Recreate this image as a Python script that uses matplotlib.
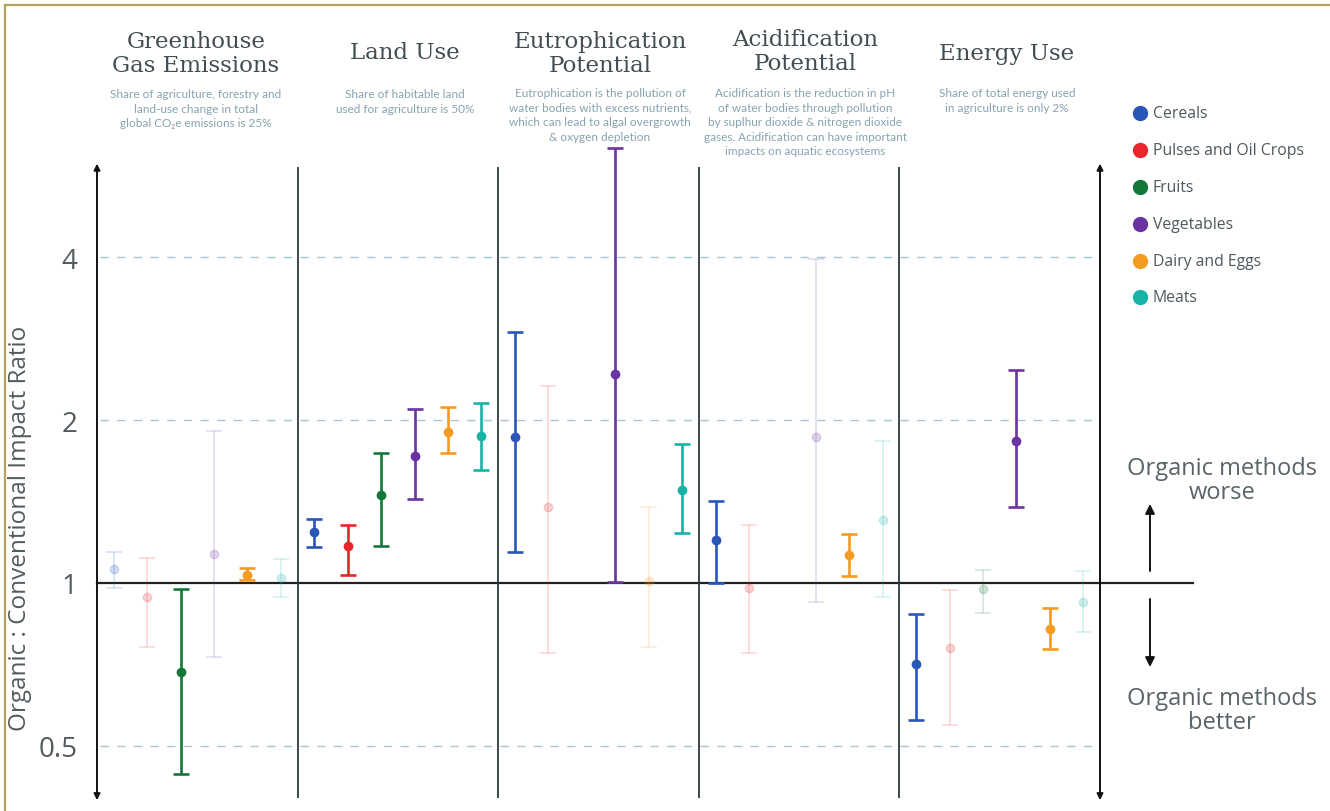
import matplotlib.pyplot as plt
from matplotlib.lines import Line2D

# panels and categories
panels = ["Greenhouse\nGas Emissions", "Land Use", "Eutrophication\nPotential",
          "Acidification\nPotential", "Energy Use"]
subtitles = [
    "Share of agriculture, forestry and\nland-use change in total\nglobal CO\u2082e emissions is 25%",
    "Share of habitable land\nused for agriculture is 50%",
    "Eutrophication is the pollution of\nwater bodies with excess nutrients,\nwhich can lead to algal overgrowth\n& oxygen depletion",
    "Acidification is the reduction in pH\nof water bodies through pollution\nby suplhur dioxide & nitrogen dioxide\ngases. Acidification can have important\nimpacts on aquatic ecosystems",
    "Share of total energy used\nin agriculture is only 2%",
]
categories = ["Cereals", "Pulses and Oil Crops", "Fruits", "Vegetables", "Dairy and Eggs", "Meats"]
colors = ["#2b56b9", "#e8262b", "#14773a", "#6a33a1", "#f69b22", "#17b3a7"]

# ratio organic : conventional (point, low, high) per panel
cereals_mid = [1.06, 1.24, 1.86, 1.20, 0.71]
cereals_lo = [0.977, 1.164, 1.14, 1.0, 0.558]
cereals_hi = [1.14, 1.312, 2.91, 1.42, 0.878]
cereals_faded = [True, False, False, False, False]

pulses_mid = [0.943, 1.168, 1.38, 0.977, 0.757]
pulses_lo = [0.761, 1.036, 0.741, 0.743, 0.547]
pulses_hi = [1.113, 1.282, 2.31, 1.277, 0.972]
pulses_faded = [True, False, True, True, True]

fruits_mid = [0.686, 1.455, None, None, 0.975]
fruits_lo = [0.444, 1.168, None, None, 0.879]
fruits_hi = [0.974, 1.737, None, None, 1.059]
fruits_faded = [False, False, False, False, True]

veg_mid = [1.133, 1.718, 2.43, 1.858, 1.83]
veg_lo = [0.730, 1.43, 1.005, 0.923, 1.384]
veg_hi = [1.91, 2.10, 6.35, 3.97, 2.47]
veg_faded = [True, False, False, True, False]

dairy_mid = [1.036, 1.902, 1.007, 1.127, 0.822]
dairy_lo = [1.013, 1.74, 0.761, 1.03, 0.754]
dairy_hi = [1.065, 2.115, 1.384, 1.23, 0.898]
dairy_faded = [False, False, True, False, False]

meats_mid = [1.02, 1.866, 1.484, 1.307, 0.923]
meats_lo = [0.943, 1.617, 1.237, 0.943, 0.813]
meats_hi = [1.107, 2.15, 1.807, 1.826, 1.053]
meats_faded = [True, False, False, True, True]

mids = [cereals_mid, pulses_mid, fruits_mid, veg_mid, dairy_mid, meats_mid]
los = [cereals_lo, pulses_lo, fruits_lo, veg_lo, dairy_lo, meats_lo]
his = [cereals_hi, pulses_hi, fruits_hi, veg_hi, dairy_hi, meats_hi]
fadeds = [cereals_faded, pulses_faded, fruits_faded, veg_faded, dairy_faded, meats_faded]

W, H = 1330, 812
fig = plt.figure(figsize=(W / 100, H / 100), dpi=100)

def fx(px):
    return px / W

def fy(py):
    return 1 - py / H

ytop, ybot = 6.4, 0.39
ax = fig.add_axes([fx(97), fy(805.4), fx(1100) - fx(97), fy(147.5) - fy(805.4)])
ax.set_yscale("log")
ax.set_xlim(0, 30)
ax.set_ylim(ybot, ytop)
for s in ax.spines.values():
    s.set_visible(False)
ax.set_xticks([])
ax.set_yticks([0.5, 1, 2, 4])
ax.set_yticklabels(["0.5", "1", "2", "4"], fontfamily="Open Sans", fontsize=20, color="#545b5f")
ax.yaxis.set_minor_locator(plt.NullLocator())
ax.tick_params(axis="y", length=0, pad=14)

text_gray = "#434e53"
sub_col = "#86a3b0"

# dashed grid
for g in [0.5, 2, 4]:
    ax.plot([0.1, 29.9], [g, g], color="#a9c4d3", lw=1, dashes=(6, 6))

# baseline at 1, extends past right arrow
ax.plot([0, 1.093], [1, 1], transform=ax.get_yaxis_transform(), color="#222", lw=1.6, clip_on=False, zorder=1)

# panel separators
ax.vlines([6, 12, 18, 24], 0.40, 5.87, color="#2b3a3f", lw=1.3)

# double arrows at both sides
for xa in [0, 1]:
    ax.annotate("", xy=(xa, 5.95), xytext=(xa, 0.397),
                xycoords=("axes fraction", "data"), textcoords=("axes fraction", "data"),
                arrowprops=dict(arrowstyle="<|-|>", color="#111", lw=1.4,
                                mutation_scale=9, shrinkA=0, shrinkB=0), annotation_clip=False)

# error bars
for k in range(6):
    for p in range(5):
        m = mids[k][p]
        if m is None:
            continue
        x = p * 6 + k + 0.5
        faded = fadeds[k][p]
        alpha = 0.2 if faded else 1.0
        lw = 1.1 if faded else 1.9
        ax.errorbar([x], [m], yerr=[[m - los[k][p]], [his[k][p] - m]], fmt="o",
                    color=colors[k], ms=6, capsize=5.5, elinewidth=lw, capthick=lw,
                    alpha=alpha, clip_on=False, zorder=3)

# titles and subtitles
title_x = [196, 405, 600, 805, 1007]
title_y = [54, 53, 54, 52, 54]
sub_y = [95, 95, 94, 94, 94]
for i in range(5):
    fig.text(fx(title_x[i]), fy(title_y[i]), panels[i], ha="center", va="center",
             fontfamily="DejaVu Serif", fontsize=16.5, color=text_gray, linespacing=1.1)
    fig.text(fx(title_x[i]), fy(sub_y[i] - 6), subtitles[i], ha="center", va="top",
             fontfamily=["Lato", "DejaVu Sans"], fontsize=8.5, color=sub_col, linespacing=1.4)

# y label
fig.text(fx(20), fy(528), "Organic : Conventional Impact Ratio", rotation=90,
         ha="center", va="center", fontfamily="Open Sans", fontsize=17.5, color="#545b5f")

# legend
leg_y = [114, 151, 188, 225, 262, 298]
for k in range(6):
    fig.add_artist(Line2D([fx(1140)], [fy(leg_y[k])], marker="o", ms=10, color=colors[k], lw=0))
    fig.text(fx(1153), fy(leg_y[k]), categories[k], ha="left", va="center",
             fontfamily="Open Sans", fontsize=11.3, color="#4f585c")

# worse / better annotations
fig.text(fx(1222), fy(481), "Organic methods\nworse", ha="center", va="center",
         fontfamily="Open Sans", fontsize=17, color="#5a6367", linespacing=1.0)
fig.text(fx(1222), fy(711), "Organic methods\nbetter", ha="center", va="center",
         fontfamily="Open Sans", fontsize=17, color="#5a6367", linespacing=1.0)
fig.add_artist(plt.Annotation("", xy=(fx(1150), fy(505)), xytext=(fx(1150), fy(572)),
                              xycoords="figure fraction", textcoords="figure fraction",
                              arrowprops=dict(arrowstyle="-|>", color="#111", lw=1.4,
                                              mutation_scale=14, shrinkA=0, shrinkB=0)))
fig.add_artist(plt.Annotation("", xy=(fx(1150), fy(668)), xytext=(fx(1150), fy(600)),
                              xycoords="figure fraction", textcoords="figure fraction",
                              arrowprops=dict(arrowstyle="-|>", color="#111", lw=1.4,
                                              mutation_scale=14, shrinkA=0, shrinkB=0)))

# golden frame at top and left
fig.add_artist(Line2D([fx(5), 1], [fy(6), fy(6)], color="#b3a35f", lw=1.6))
fig.add_artist(Line2D([fx(5), fx(5)], [fy(6), 0], color="#b3a35f", lw=1.6))

fig.savefig("out.png", dpi=100)
